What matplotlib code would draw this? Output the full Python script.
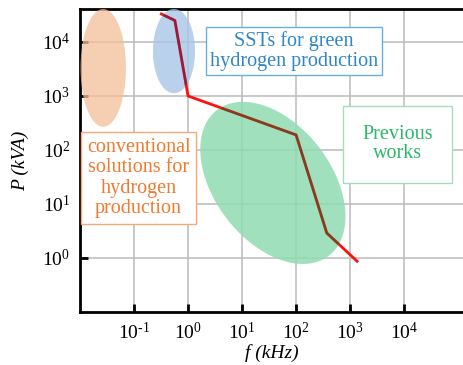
import numpy as np
import matplotlib
matplotlib.use("Agg")
import matplotlib.pyplot as plt
from matplotlib.patches import Polygon

plt.rcParams['font.family'] = ['Liberation Serif', 'DejaVu Serif']
plt.rcParams['mathtext.fontset'] = 'custom'
plt.rcParams['mathtext.rm'] = 'Liberation Serif'
plt.rcParams['mathtext.it'] = 'Liberation Serif:italic'

# trend line (f in kHz, P in kVA)
line_f = [0.32, 0.57, 1.0, 100, 370, 1350]
line_p = [33000, 25000, 1000, 190, 2.9, 0.87]

# regions: centre (log10 f, log10 P), semi-axes in decades, angle in degrees
regions = {
    'conventional': dict(c=(-1.57, 3.52), a=0.42, b=1.09, ang=0, color='#F4BE98', alpha=0.75, line='#B0402A'),
    'sst': dict(c=(-0.26, 3.83), a=0.39, b=0.78, ang=0, color='#A8C6E6', alpha=0.8, line='#A01838'),
    'previous': dict(c=(1.57, 1.39), a=1.70, b=1.08, ang=-52.5, color='#8FDBB2', alpha=0.85, line='#8B3A1E'),
}

xticks = [1e-1, 1e0, 1e1, 1e2, 1e3, 1e4]
xlabels = ['10$^{\\text{-}1}$', '10$^{0}$', '10$^{1}$', '10$^{2}$', '10$^{3}$', '10$^{4}$']
yticks = [1e0, 1e1, 1e2, 1e3, 1e4]
ylabels = ['10$^{0}$', '10$^{1}$', '10$^{2}$', '10$^{3}$', '10$^{4}$']


def ellipse_pts(c, a, b, ang):
    t = np.linspace(0, 2 * np.pi, 300)
    th = np.deg2rad(ang)
    ex = a * np.cos(t)
    ey = b * np.sin(t)
    lx = c[0] + ex * np.cos(th) - ey * np.sin(th)
    ly = c[1] + ex * np.sin(th) + ey * np.cos(th)
    return np.column_stack([10 ** lx, 10 ** ly])


fig = plt.figure(figsize=(4.63, 3.65), dpi=100)
ax = fig.add_axes([0.1728, 0.1452, 0.8272, 0.8301])
ax.set_xscale('log')
ax.set_yscale('log')
ax.set_xlim(1e-2, 10 ** 5.09)
ax.set_ylim(1e-1, 10 ** 4.61)

ax.set_xticks(xticks, xlabels)
ax.set_yticks(yticks, ylabels)
ax.minorticks_off()
ax.grid(True, color='#BBBBBB', lw=1.1, zorder=0)
ax.set_axisbelow(True)

ax.plot(line_f, line_p, color='#FF1010', lw=2, zorder=2)
for key, r in regions.items():
    patch = Polygon(ellipse_pts(r['c'], r['a'], r['b'], r['ang']), closed=True,
                    facecolor=r['color'], edgecolor='none', alpha=r['alpha'], zorder=3)
    ax.add_patch(patch)
    inner, = ax.plot(line_f, line_p, color=r['line'], lw=2, zorder=4)
    inner.set_clip_path(patch)

ax.text(0.559, 0.861, 'SSTs for green\nhydrogen production', transform=ax.transAxes,
        ha='center', va='center', fontsize=14.5, color='#2F86C6', zorder=5,
        linespacing=1.05,
        bbox=dict(boxstyle='square,pad=0.2', fc='white', ec='#6AAEE0', lw=1))
ax.text(0.153, 0.442, 'conventional\nsolutions for\nhydrogen\nproduction', transform=ax.transAxes,
        ha='center', va='center', fontsize=14.5, color='#F27A30', zorder=5,
        linespacing=1.1,
        bbox=dict(boxstyle='square,pad=0.3', fc='white', ec='#F8A878', lw=1))
ax.text(0.830, 0.554, 'Previous\nworks', transform=ax.transAxes,
        ha='center', va='center', fontsize=14.5, color='#2CB86C', zorder=5,
        linespacing=1.05,
        bbox=dict(boxstyle='square,pad=0.95', fc='white', ec='#A0DEBC', lw=1))

for s in ['left', 'bottom', 'top']:
    ax.spines[s].set_linewidth(2)
ax.spines['right'].set_visible(False)
ax.tick_params(direction='in', length=6, width=2, labelsize=14, pad=7)

ax.set_xlabel('f (kHz)', fontsize=14, style='italic', labelpad=1)
ax.set_ylabel('P (kVA)', fontsize=14, style='italic', labelpad=9)

fig.savefig('out.png', dpi=100)
